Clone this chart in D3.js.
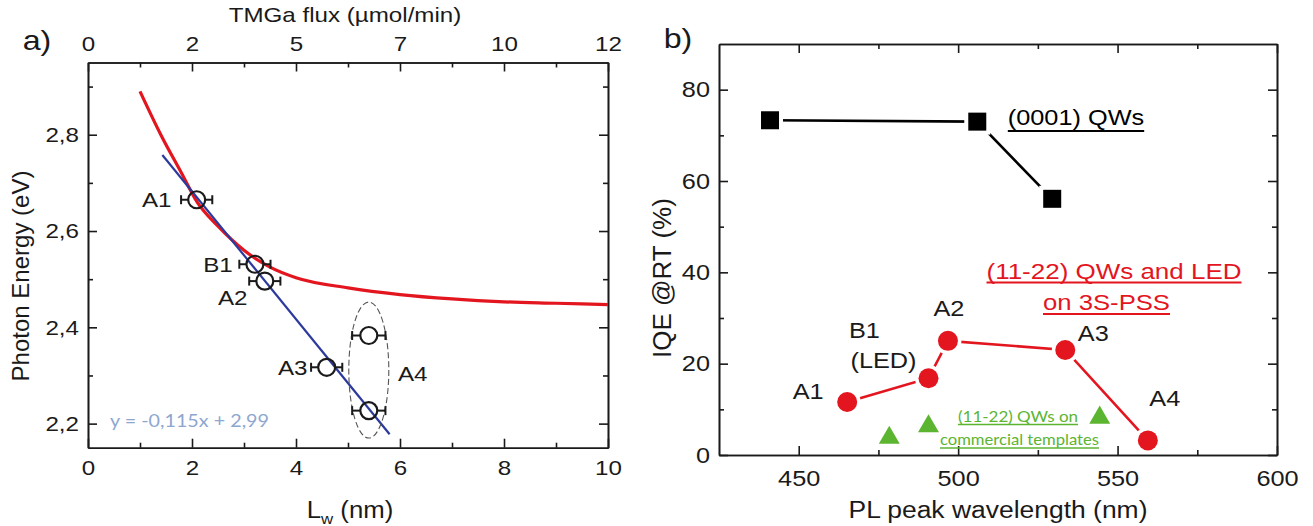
<!DOCTYPE html>
<html><head><meta charset="utf-8">
<script src="https://cdn.jsdelivr.net/npm/d3@7"></script>
<style>
body{margin:0;background:#fff}
svg{display:block}
</style>
</head><body>
<svg id="c" width="1313" height="526"></svg>
<script>
// ===================== DATA =====================
// Panel a) : well width vs photon energy
const lwTicks = [0, 2, 4, 6, 8, 10];
const lwTickLabels = ["0", "2", "4", "6", "8", "10"];
const lwMinorTicks = [1, 3, 5, 7, 9];
const tmgaTickLabels = ["0", "2", "5", "7", "10", "12"];   // top axis, at the lw major ticks
const energyTicks = [2.2, 2.4, 2.6, 2.8];
const energyTickLabels = ["2,2", "2,4", "2,6", "2,8"];
const energyMinorTicks = [2.3, 2.5, 2.7, 2.9];

const curveLw = [1.0, 1.4, 1.8, 2.1, 2.5, 3.0, 3.5, 4.0, 5.0, 6.0, 7.0, 8.0, 9.0, 10.0];
const curveE  = [2.89, 2.80, 2.72, 2.66, 2.61, 2.56, 2.525, 2.503, 2.482, 2.468, 2.459, 2.453, 2.45, 2.447];

const fitLw = [1.43, 5.80];
const fitE  = [2.758, 2.178];
const fitLabel = "y = -0,115x + 2,99";

const sampleNames = ["A1", "B1", "A2", "A3", "A4", "A4"];
const sampleLw    = [2.09, 3.21, 3.40, 4.59, 5.40, 5.40];
const sampleE     = [2.665, 2.531, 2.496, 2.317, 2.383, 2.227];
const sampleLwErr = [0.30, 0.30, 0.30, 0.30, 0.32, 0.32];

// Panel b) : IQE vs PL peak wavelength
const wlTicks = [450, 500, 550, 600];
const wlTickLabels = ["450", "500", "550", "600"];
const wlMinorTicks = [475, 525, 575];
const iqeTicks = [0, 20, 40, 60, 80];
const iqeTickLabels = ["0", "20", "40", "60", "80"];
const iqeMinorTicks = [10, 30, 50, 70];

const cPlaneWl  = [441, 506, 529.5];
const cPlaneIqe = [73.3, 73.0, 56.1];

const semiNames = ["A1", "B1", "A2", "A3", "A4"];
const semiWl    = [465.2, 490.7, 496.8, 533.6, 559.5];
const semiIqe   = [11.6, 16.8, 25.0, 23.0, 3.2];

const commWl  = [478.4, 490.7, 544.4];
const commIqe = [4.0, 6.5, 8.4];

// ===================== DRAW =====================
const FONT = '"Liberation Sans", Arial, sans-serif';
const STRETCH = 1.15;
const svg = d3.select("#c");
const INK = "#1a1a1a";

function stretch(sel, f) {
  sel.each(function () {
    const L = this.getComputedTextLength();
    if (L > 0) d3.select(this).attr("textLength", L * (f || STRETCH)).attr("lengthAdjust", "spacingAndGlyphs");
  });
}
function txt(parent, x, y, s, size, anchor, color, fam) {
  const t = parent.append("text").attr("x", x).attr("y", y).text(s)
    .style("font-family", fam || FONT).style("font-size", size + "px")
    .attr("text-anchor", anchor || "middle").attr("fill", color || INK);
  return t;
}
function underline(parent, t, dy, color, w) {
  const b = t.node().getBBox();
  parent.append("line").attr("x1", b.x).attr("x2", b.x + b.width)
    .attr("y1", +t.attr("y") + dy).attr("y2", +t.attr("y") + dy)
    .attr("stroke", color).attr("stroke-width", w || 1.6);
}
function styleAxis(g, size) {
  g.attr("font-family", null).attr("font-size", null);
  g.selectAll("path.domain").attr("stroke", INK).attr("stroke-width", 1.6);
  g.selectAll(".tick line").attr("stroke", INK).attr("stroke-width", 1.6);
  g.selectAll(".tick text").attr("fill", INK).style("font-family", FONT).style("font-size", size + "px");
  stretch(g.selectAll(".tick text"));
}

// ---------- Panel a ----------
const ax = d3.scaleLinear().domain([0, 10]).range([88, 608]);
const ay = d3.scaleLinear().domain([2.15, 2.95]).range([447.7, 62.5]);
const ga = svg.append("g");

const axB = ga.append("g").attr("transform", `translate(0,${ay.range()[0]})`);
axB.call(d3.axisBottom(ax).tickValues(lwTicks).tickFormat((d, i) => lwTickLabels[i]).tickSize(-9).tickSizeOuter(0).tickPadding(12));
styleAxis(axB, 21);
const axBm = ga.append("g").attr("transform", `translate(0,${ay.range()[0]})`);
axBm.call(d3.axisBottom(ax).tickValues(lwMinorTicks).tickFormat("").tickSize(-5).tickSizeOuter(0));
styleAxis(axBm, 21);

const axT = ga.append("g").attr("transform", `translate(0,${ay.range()[1]})`);
axT.call(d3.axisTop(ax).tickValues(lwTicks).tickFormat((d, i) => tmgaTickLabels[i]).tickSize(-9).tickSizeOuter(0).tickPadding(12));
styleAxis(axT, 21);
const axTm = ga.append("g").attr("transform", `translate(0,${ay.range()[1]})`);
axTm.call(d3.axisTop(ax).tickValues(lwMinorTicks).tickFormat("").tickSize(-5).tickSizeOuter(0));
styleAxis(axTm, 21);

const axL = ga.append("g").attr("transform", `translate(${ax.range()[0]},0)`);
axL.call(d3.axisLeft(ay).tickValues(energyTicks).tickFormat((d, i) => energyTickLabels[i]).tickSize(-9).tickSizeOuter(0).tickPadding(9));
styleAxis(axL, 21);
const axLm = ga.append("g").attr("transform", `translate(${ax.range()[0]},0)`);
axLm.call(d3.axisLeft(ay).tickValues(energyMinorTicks).tickFormat("").tickSize(-5).tickSizeOuter(0));
styleAxis(axLm, 21);

const axR = ga.append("g").attr("transform", `translate(${ax.range()[1]},0)`);
axR.call(d3.axisRight(ay).tickValues(energyTicks).tickFormat("").tickSize(-9).tickSizeOuter(0));
styleAxis(axR, 21);
const axRm = ga.append("g").attr("transform", `translate(${ax.range()[1]},0)`);
axRm.call(d3.axisRight(ay).tickValues(energyMinorTicks).tickFormat("").tickSize(-5).tickSizeOuter(0));
styleAxis(axRm, 21);

// red curve
const curvePts = curveLw.map((d, i) => [d, curveE[i]]);
ga.append("path").datum(curvePts)
  .attr("d", d3.line().x(d => ax(d[0])).y(d => ay(d[1])).curve(d3.curveMonotoneX))
  .attr("fill", "none").attr("stroke", "#e3161f").attr("stroke-width", 3.2);

// blue fit line
const fitPts = fitLw.map((d, i) => [d, fitE[i]]);
ga.append("path").datum(fitPts)
  .attr("d", d3.line().x(d => ax(d[0])).y(d => ay(d[1])))
  .attr("fill", "none").attr("stroke", "#2c3a9c").attr("stroke-width", 2.2);

// dashed ellipse around A4
const a4Idx = sampleNames.map((n, i) => n === "A4" ? i : -1).filter(i => i >= 0);
const a4x = ax(d3.mean(a4Idx, i => sampleLw[i]));
const a4y = (ay(sampleE[a4Idx[0]]) + ay(sampleE[a4Idx[1]])) / 2 - 3;
ga.append("ellipse").attr("cx", a4x).attr("cy", a4y).attr("rx", 20).attr("ry", 68)
  .attr("fill", "none").attr("stroke", "#555").attr("stroke-width", 1.1).attr("stroke-dasharray", "6,3");

// error bars + open circles
const R = 8.5;
sampleLw.forEach((lw, i) => {
  const cx = ax(lw), cy = ay(sampleE[i]);
  const xl = ax(lw - sampleLwErr[i]), xr = ax(lw + sampleLwErr[i]);
  const g = ga.append("g").attr("stroke", INK).attr("stroke-width", 2).attr("fill", "none");
  g.append("line").attr("x1", xl).attr("x2", cx - R).attr("y1", cy).attr("y2", cy);
  g.append("line").attr("x1", cx + R).attr("x2", xr).attr("y1", cy).attr("y2", cy);
  g.append("line").attr("x1", xl).attr("x2", xl).attr("y1", cy - 4.5).attr("y2", cy + 4.5);
  g.append("line").attr("x1", xr).attr("x2", xr).attr("y1", cy - 4.5).attr("y2", cy + 4.5);
  g.append("circle").attr("cx", cx).attr("cy", cy).attr("r", R).attr("stroke-width", 2.2);
});

// sample labels (offsets in px from each point)
const labOffA = {0: [-40, 0], 1: [-37, 0], 2: [-32, 16], 3: [-34, 0]};
[0, 1, 2, 3].forEach(i => {
  const t = txt(ga, ax(sampleLw[i]) + labOffA[i][0], ay(sampleE[i]) + labOffA[i][1] + 7.5, sampleNames[i], 21);
  stretch(t);
});
stretch(txt(ga, a4x + 44, a4y + 10.5, "A4", 21));

// fit equation
const eq = txt(ga, 110, 426.5, fitLabel, 18, "start", "#8ea7d0", "Lato, 'Open Sans', sans-serif");
eq.attr("textLength", 159).attr("lengthAdjust", "spacingAndGlyphs");

// axis titles a
stretch(txt(svg, 345, 22, "TMGa flux (\u00b5mol/min)", 21));
svg.append("text").attr("transform", "translate(29,276) rotate(-90)")
  .attr("text-anchor", "middle").style("font-family", FONT).style("font-size", "24px").attr("fill", INK)
  .text("Photon Energy (eV)");
const xt = svg.append("text").attr("x", 350).attr("y", 518).attr("text-anchor", "middle")
  .style("font-family", FONT).style("font-size", "23px").attr("fill", INK);
xt.append("tspan").text("L");
xt.append("tspan").text("w").style("font-size", "15px").attr("dy", 6);
xt.append("tspan").text(" (nm)").attr("dy", -6);
stretch(xt, 1.12);
stretch(txt(svg, 37, 50, "a)", 28));

// ---------- Panel b ----------
const bx = d3.scaleLinear().domain([425, 600]).range([719, 1277]);
const by = d3.scaleLinear().domain([0, 90]).range([455, 44]);
const gb = svg.append("g");

function axes(g, scale, pos, gen, vals, labels, size, pad, minor) {
  const a = g.append("g").attr("transform", pos);
  a.call(gen(scale).tickValues(vals).tickFormat(labels ? (d, i) => labels[i] : "").tickSize(-9).tickSizeOuter(0).tickPadding(pad));
  styleAxis(a, size);
  const m = g.append("g").attr("transform", pos);
  m.call(gen(scale).tickValues(minor).tickFormat("").tickSize(-5).tickSizeOuter(0));
  styleAxis(m, size);
}
axes(gb, bx, `translate(0,${by.range()[0]})`, d3.axisBottom, wlTicks, wlTickLabels, 22, 15, wlMinorTicks);
axes(gb, bx, `translate(0,${by.range()[1]})`, d3.axisTop, wlTicks, null, 22, 10, wlMinorTicks);
axes(gb, by, `translate(${bx.range()[0]},0)`, d3.axisLeft, iqeTicks, iqeTickLabels, 22, 9, iqeMinorTicks);
axes(gb, by, `translate(${bx.range()[1]},0)`, d3.axisRight, iqeTicks, null, 22, 10, iqeMinorTicks);

// lines
const cPts = cPlaneWl.map((d, i) => [d, cPlaneIqe[i]]);
gb.append("path").datum(cPts).attr("d", d3.line().x(d => bx(d[0])).y(d => by(d[1])))
  .attr("fill", "none").attr("stroke", "#000").attr("stroke-width", 2.6);
const sPts = semiWl.map((d, i) => [d, semiIqe[i]]);
gb.append("path").datum(sPts).attr("d", d3.line().x(d => bx(d[0])).y(d => by(d[1])))
  .attr("fill", "none").attr("stroke", "#e3161f").attr("stroke-width", 2.6);

// halos (gap between line and symbol)
cPts.forEach(d => gb.append("rect").attr("x", bx(d[0]) - 13).attr("y", by(d[1]) - 13).attr("width", 26).attr("height", 26).attr("fill", "#fff"));
sPts.forEach(d => gb.append("circle").attr("cx", bx(d[0])).attr("cy", by(d[1])).attr("r", 13.5).attr("fill", "#fff"));

// symbols
cPts.forEach(d => gb.append("rect").attr("x", bx(d[0]) - 9).attr("y", by(d[1]) - 9).attr("width", 18).attr("height", 18).attr("fill", "#000"));
sPts.forEach(d => gb.append("circle").attr("cx", bx(d[0])).attr("cy", by(d[1])).attr("r", 10).attr("fill", "#e3161f"));
const tri = d3.symbol().type(d3.symbolTriangle).size(190);
commWl.forEach((w, i) => gb.append("path").attr("d", tri())
  .attr("transform", `translate(${bx(w)},${by(commIqe[i]) + 1})`).attr("fill", "#5cb531"));

// point labels (px offsets)
const labOffB = [[-39, -11], [-64, -48], [1, -33], [28, -17], [17, -42]];
semiNames.forEach((n, i) => {
  stretch(txt(gb, bx(semiWl[i]) + labOffB[i][0], by(semiIqe[i]) + labOffB[i][1] + 8, n, 22));
});
stretch(txt(gb, bx(semiWl[1]) - 45, by(semiIqe[1]) - 18 + 8, "(LED)", 22));

// series annotations
const t1 = txt(gb, 1076, 125, "(0001) QWs", 22, "middle", "#000");
stretch(t1);
underline(gb, t1, 6, "#000", 2);
const r1 = txt(gb, 1114, 278.5, "(11-22) QWs and LED", 22, "middle", "#e3161f");
r1.attr("textLength", 255).attr("lengthAdjust", "spacingAndGlyphs");
underline(gb, r1, 4, "#e3161f", 1.8);
const r2 = txt(gb, 1106.5, 310, "on 3S-PSS", 22, "middle", "#e3161f");
r2.attr("textLength", 127).attr("lengthAdjust", "spacingAndGlyphs");
underline(gb, r2, 4, "#e3161f", 1.8);
const g1 = txt(gb, 1018, 421.5, "(11-22) QWs on", 15, "middle", "#5cb531", "Lato, 'Open Sans', sans-serif");
g1.attr("textLength", 120).attr("lengthAdjust", "spacingAndGlyphs");
underline(gb, g1, 3, "#5cb531", 1.3);
const g2 = txt(gb, 1019.5, 445, "commercial templates", 15, "middle", "#5cb531", "Lato, 'Open Sans', sans-serif");
g2.attr("textLength", 159).attr("lengthAdjust", "spacingAndGlyphs");
underline(gb, g2, 3, "#5cb531", 1.3);

// axis titles b
stretch(txt(svg, 998, 518, "PL peak wavelength (nm)", 23));
svg.append("text").attr("transform", "translate(671,278) rotate(-90)")
  .attr("text-anchor", "middle").style("font-family", FONT).style("font-size", "26px").attr("fill", INK)
  .text("IQE @RT (%)");
stretch(txt(svg, 678, 48, "b)", 28));
</script>
</body></html>
